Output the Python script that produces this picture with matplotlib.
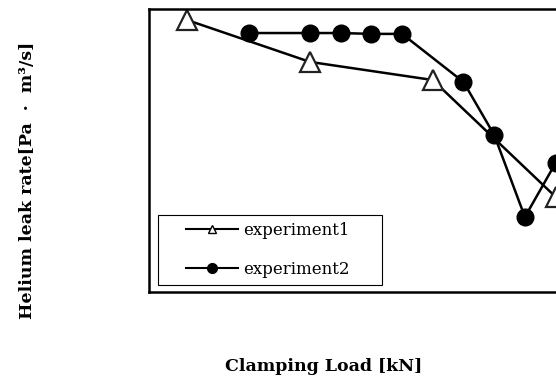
import matplotlib
matplotlib.use('Agg')
import matplotlib.pyplot as plt
from matplotlib.lines import Line2D
from matplotlib.legend_handler import HandlerLine2D

# =============================================================================
# Data (arbitrary y units, no axis ticks shown)
# =============================================================================
load_exp1 = [10, 30, 50, 70]
leak_exp1 = [9.61, 8.13, 7.49, 3.36]

load_exp2 = [20, 30, 35, 40, 45, 55, 60, 65, 70]
leak_exp2 = [9.15, 9.15, 9.15, 9.12, 9.12, 7.42, 5.55, 2.65, 4.56]

labels = ['experiment1', 'experiment2']
xlabel = 'Clamping Load [kN]'
ylabel = 'Helium leak rate[Pa  ·  m³/s]'

plt.rcParams['font.family'] = ['DejaVu Serif']

fig = plt.figure(figsize=(5.56, 3.79), dpi=100)
ax = fig.add_axes([0.268, 0.2296, 0.770, 0.7467])

# Plot
ax.plot(load_exp1, leak_exp1, color='black', linewidth=1.8, marker='^',
        markersize=14, markerfacecolor='white', markeredgecolor='#222222',
        markeredgewidth=1.6, zorder=2)
ax.plot(load_exp2, leak_exp2, color='black', linewidth=1.8, marker='o',
        markersize=12, markerfacecolor='black', markeredgecolor='black', zorder=3)

ax.set_xlim(3.8, 73.5)
ax.set_ylim(0, 10)
ax.set_xticks([])
ax.set_yticks([])
for s in ax.spines.values():
    s.set_linewidth(1.8)

# Legend with small markers
handles = [
    Line2D([], [], color='black', linewidth=1.5, marker='^', markersize=6,
           markerfacecolor='white', markeredgecolor='black', markeredgewidth=1),
    Line2D([], [], color='black', linewidth=1.5, marker='o', markersize=7,
           markerfacecolor='black'),
]
hmap = {h: HandlerLine2D(xpad=1.3) for h in handles}
lgd = ax.legend(handles, labels, loc='lower left', mode='expand',
                bbox_to_anchor=(0.021, 0.025, 0.523, 0.25), borderaxespad=0,
                handler_map=hmap, fontsize=12, handlelength=4.4,
                handletextpad=0.3, labelspacing=1.35, borderpad=0.4,
                fancybox=False, framealpha=1, edgecolor='black')
lgd.get_frame().set_linewidth(0.8)

# Labels
fig.text(0.582, 0.032, xlabel, ha='center', va='center', fontsize=12.5,
         fontweight='bold')
fig.text(0.05, 0.525, ylabel, ha='center', va='center', fontsize=12.5,
         fontweight='bold', rotation=90)

fig.savefig('out.png', dpi=100)
